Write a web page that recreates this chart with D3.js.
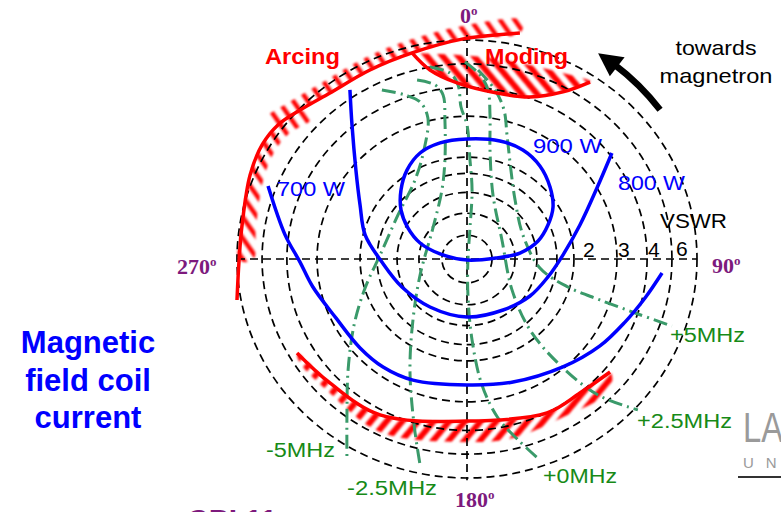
<!DOCTYPE html>
<html>
<head>
<meta charset="utf-8">
<script src="https://cdn.jsdelivr.net/npm/d3@7"></script>
<style>
  html, body { margin: 0; padding: 0; background: #fff; }
  svg { display: block; }
</style>
</head>
<body>
<svg id="chart" width="781" height="512"></svg>
<script>
// ---- Rieke diagram data (load plane, u = real, v = imaginary, outer ring = 1) ----

// constant-VSWR rings
const ringRadii = [0.109, 0.209, 0.304, 0.391, 0.465, 0.652, 0.783, 0.891, 1.0];
const vswrValues = ["2", "3", "4", "6"];
const vswrRings = [0.652, 0.783, 0.891, 1.0];

// load phase marks
const phaseLabels = ["0", "90", "180", "270"];

// output power contours
const power900 = [[0.000,0.548],[0.143,0.539],[0.243,0.498],[0.317,0.425],[0.361,0.329],[0.374,0.237],
  [0.352,0.155],[0.309,0.082],[0.230,0.027],[0.130,0.005],[0.000,-0.005],[-0.117,0.023],[-0.204,0.073],
  [-0.257,0.142],[-0.287,0.224],[-0.287,0.315],[-0.261,0.406],[-0.204,0.484],[-0.117,0.530]];
const power800 = [[-0.509,0.772],[-0.500,0.612],[-0.483,0.406],[-0.465,0.247],[-0.443,0.110],[-0.370,-0.014],
  [-0.283,-0.128],[-0.161,-0.219],[0.000,-0.265],[0.157,-0.233],[0.274,-0.169],[0.352,-0.082],[0.417,0.018],
  [0.491,0.155],[0.565,0.324],[0.630,0.484]];
const power700 = [[-0.865,0.333],[-0.791,0.110],[-0.726,-0.014],[-0.670,-0.128],[-0.570,-0.269],[-0.465,-0.406],
  [-0.365,-0.493],[-0.235,-0.553],[0.000,-0.575],[0.200,-0.562],[0.417,-0.493],[0.578,-0.397],[0.687,-0.288],
  [0.774,-0.178],[0.848,-0.064]];
const powerLabels = ["900 W", "800 W", "700 W"];

// frequency pushing contours
const freqMinus5 = [[-0.370,0.772],[-0.270,0.749],[-0.204,0.717],[-0.170,0.644],[-0.187,0.498],[-0.226,0.361],
  [-0.300,0.201],[-0.378,0.018],[-0.443,-0.132],[-0.491,-0.301],[-0.517,-0.507],[-0.522,-0.712],[-0.522,-0.918]];
const freqMinus25 = [[-0.217,0.817],[-0.139,0.795],[-0.104,0.749],[-0.096,0.635],[-0.096,0.452],[-0.109,0.315],
  [-0.148,0.142],[-0.204,-0.073],[-0.235,-0.279],[-0.248,-0.507],[-0.230,-0.758],[-0.204,-0.941]];
const freqZero = [[-0.161,0.877],[-0.074,0.849],[-0.039,0.795],[-0.026,0.694],[0.000,0.612],[0.013,0.452],
  [0.022,0.315],[0.013,0.142],[0.004,-0.005],[0.004,-0.164],[0.022,-0.370],[0.065,-0.575],[0.135,-0.726],
  [0.222,-0.826],[0.317,-0.918]];
const freqPlus25 = [[-0.009,0.900],[0.057,0.840],[0.091,0.772],[0.100,0.658],[0.100,0.498],[0.113,0.292],
  [0.152,0.087],[0.196,-0.142],[0.274,-0.324],[0.404,-0.484],[0.570,-0.621],[0.743,-0.689]];
const freqPlus5 = [[0.048,0.863],[0.122,0.772],[0.161,0.680],[0.174,0.566],[0.191,0.406],[0.209,0.269],
  [0.243,0.110],[0.317,-0.041],[0.439,-0.128],[0.578,-0.187],[0.743,-0.251],[0.891,-0.306]];
const freqLabels = ["-5MHz", "-2.5MHz", "+0MHz", "+2.5MHz", "+5MHz"];

// unstable operating regions
const arcingEdge = [[-1.000,-0.187],[-0.991,-0.005],[-0.978,0.155],[-0.943,0.384],[-0.891,0.521],[-0.822,0.612],
  [-0.726,0.680],[-0.596,0.758],[-0.422,0.863],[-0.239,0.941],[-0.017,1.005],[0.230,1.032]];
const modingEdge = [[-0.239,0.941],[-0.161,0.863],[-0.043,0.804],[0.130,0.758],[0.274,0.740],[0.417,0.763],[0.535,0.808]];
const modingTop = [[-0.239,0.941],[-0.117,0.936],[0.070,0.922],[0.274,0.886],[0.417,0.849],[0.535,0.813]];
const lowEdge = [[-0.739,-0.429],[-0.596,-0.566],[-0.378,-0.712],[0.000,-0.740],[0.348,-0.703],[0.491,-0.612],[0.622,-0.516]];
const lowOuter = [[-0.726,-0.475],[-0.596,-0.612],[-0.378,-0.790],[0.000,-0.836],[0.200,-0.817],[0.391,-0.735],[0.622,-0.598]];
const regionLabels = ["Arcing", "Moding"];

// ---- layout ----
const cx = 467, cy = 259, R = 230, Ry = 219;
const x = d3.scaleLinear().domain([-1, 1]).range([cx - R, cx + R]);
const y = d3.scaleLinear().domain([-1, 1]).range([cy + Ry, cy - Ry]);

const svg = d3.select("#chart");
const defs = svg.append("defs");

const blur = defs.append("filter").attr("id", "soft")
  .attr("x", "-10%").attr("y", "-10%").attr("width", "120%").attr("height", "120%");
blur.append("feGaussianBlur").attr("stdDeviation", 0.9);

function hatch(id, angle, w) {
  const p = defs.append("pattern").attr("id", id)
    .attr("patternUnits", "userSpaceOnUse")
    .attr("width", 12).attr("height", 12)
    .attr("patternTransform", `rotate(${angle})`);
  p.append("rect").attr("width", w).attr("height", 12).attr("fill", "#ff0000");
}
hatch("hatchTop", -40, 6);
hatch("hatchArc", -35, 4.5);
hatch("hatchLow", 40, 6);

const line = d3.line().x(d => x(d[0])).y(d => y(d[1])).curve(d3.curveCatmullRom.alpha(0.5));
const loop = d3.line().x(d => x(d[0])).y(d => y(d[1])).curve(d3.curveCatmullRomClosed.alpha(0.5));

// radial offset of an edge, in pixels (positive = away from the centre)
const offsetEdge = (edge, px) => edge.map(d => {
  const ex = x(d[0]), ey = y(d[1]);
  const dx = ex - cx, dy = ey - cy, n = Math.hypot(dx, dy);
  return [x.invert(ex + dx / n * px), y.invert(ey + dy / n * px)];
});
const band = (a, b) => {
  const pts = a.concat(b.slice().reverse());
  return d3.line().x(d => x(d[0])).y(d => y(d[1])).curve(d3.curveCatmullRomClosed.alpha(0.5))(pts);
};

const arcTop = arcingEdge.slice(5), arcSide = arcingEdge.slice(1, 7);
const hatchLayer = svg.append("g").attr("filter", "url(#soft)");
hatchLayer.append("path").attr("d", band(arcTop, offsetEdge(arcTop, 13))).attr("fill", "url(#hatchArc)");
hatchLayer.append("path").attr("d", band(arcSide, offsetEdge(arcSide, -14))).attr("fill", "url(#hatchArc)");
hatchLayer.append("path").attr("d", band(modingTop, modingEdge)).attr("fill", "url(#hatchTop)");
hatchLayer.append("path").attr("d", band(lowEdge, lowOuter)).attr("fill", "url(#hatchLow)");

// VSWR rings and phase axes
const grid = svg.append("g").attr("fill", "none").attr("stroke", "#000")
  .attr("stroke-width", 1.7).attr("stroke-dasharray", "8,5");
grid.selectAll("ellipse").data(ringRadii).join("ellipse")
  .attr("cx", x(0)).attr("cy", y(0))
  .attr("rx", d => x(d) - x(0)).attr("ry", d => y(0) - y(d));
grid.append("line").attr("x1", x(-1)).attr("x2", x(1)).attr("y1", y(0)).attr("y2", y(0));
grid.append("line").attr("x1", x(0)).attr("x2", x(0)).attr("y1", y(1.023)).attr("y2", y(-1.01));

// frequency contours
const freqCurves = [freqMinus5, freqMinus25, freqZero, freqPlus25, freqPlus5];
svg.append("g").selectAll("path").data(freqCurves).join("path")
  .attr("d", line).attr("fill", "none").attr("stroke", "#3a9a6a")
  .attr("stroke-width", 3).attr("stroke-dasharray", "14,5,2,5");

// power contours
const blue = svg.append("g").attr("fill", "none").attr("stroke", "#0000ff").attr("stroke-width", 3.5);
blue.append("path").attr("d", loop(power900));
blue.append("path").attr("d", line(power800));
blue.append("path").attr("d", line(power700));

// region boundaries
const red = svg.append("g").attr("fill", "none").attr("stroke", "#ff0000").attr("stroke-width", 3.5);
[arcingEdge, modingEdge, lowEdge].forEach(c => red.append("path").attr("d", line(c)));

// arrow: direction of increasing line length towards the magnetron
const arrowR = 244;
const polar = (b, r) => [cx + r * Math.sin(b * Math.PI / 180), cy - r * Math.cos(b * Math.PI / 180)];
const shaft = d3.path();
shaft.arc(cx, cy, arrowR, (52.3 - 90) * Math.PI / 180, (37.0 - 90) * Math.PI / 180, true);
svg.append("path").attr("d", shaft.toString()).attr("fill", "none").attr("stroke", "#000").attr("stroke-width", 6.5);
const tip = polar(32.5, arrowR), base1 = polar(38, arrowR + 12), base2 = polar(38, arrowR - 12);
svg.append("path").attr("d", `M${tip}L${base1}L${base2}Z`).attr("fill", "#000");

// ---- text ----
const sans = "'Liberation Sans', Arial, Helvetica, sans-serif";
const serif = "'Liberation Serif', 'Times New Roman', serif";

function label(txt, px, py, opt) {
  const t = svg.append("text").attr("x", px).attr("y", py)
    .attr("font-family", opt.family || sans).attr("font-size", opt.size)
    .attr("font-weight", opt.weight || "normal").attr("fill", opt.color)
    .attr("text-anchor", opt.anchor || "start").text(txt);
  if (opt.len) t.attr("textLength", opt.len).attr("lengthAdjust", "spacingAndGlyphs");
  return t;
}

// phase marks with superscript "o"
const purple = "#7d1a7d";
const phasePos = [[460, 23], [712, 273], [455, 507], [177, 274]];
phaseLabels.forEach((p, i) => {
  const t = svg.append("text").attr("x", phasePos[i][0]).attr("y", phasePos[i][1])
    .attr("font-family", serif).attr("font-size", 22).attr("font-weight", "bold").attr("fill", purple);
  t.append("tspan").text(p);
  t.append("tspan").attr("font-size", 13).attr("dy", -8).text("o");
});

// VSWR scale
label("VSWR", 660, 228, { size: 21, color: "#000", len: 67 });
const vswrPos = [[583, 257], [618, 257], [648, 257], [676, 256]];
vswrValues.forEach((v, i) => label(v, vswrPos[i][0], vswrPos[i][1], { size: 21, color: "#000" }));

// power labels
const powerPos = [[533, 153, 69], [618, 190, 67], [277, 196, 68]];
powerLabels.forEach((p, i) => label(p, powerPos[i][0], powerPos[i][1], { size: 21, color: "#0000ff", len: powerPos[i][2] }));

// frequency labels
const freqPos = [[266, 457, 69], [347, 495, 90], [543, 483, 74], [637, 428, 95], [670, 342, 75]];
freqLabels.forEach((f, i) => label(f, freqPos[i][0], freqPos[i][1], { size: 20, color: "#178a17", len: freqPos[i][2] }));

// region names
label(regionLabels[0], 265, 64, { size: 22, weight: "bold", color: "#ff0000", len: 75 });
label(regionLabels[1], 485, 64, { size: 22, weight: "bold", color: "#ff0000", len: 83 });

// arrow caption
label("towards", 716, 55, { size: 21, color: "#000", anchor: "middle", len: 81 });
label("magnetron", 716, 83, { size: 21, color: "#000", anchor: "middle", len: 113 });

// axis caption
["Magnetic", "field coil", "current"].forEach((s, i) =>
  label(s, 88, 353 + i * 37.5, { size: 31, weight: "bold", color: "#0000ff", anchor: "middle" }));

// slide footer
label("CPI 11", 187, 530, { size: 30, weight: "bold", color: purple });
svg.append("text").attr("x", 743).attr("y", 442)
  .attr("font-family", sans).attr("font-size", 42).attr("fill", "#9a9a9a")
  .attr("transform", "translate(743,0) scale(0.78,1) translate(-743,0)").text("LANCASTER");
svg.append("text").attr("x", 743).attr("y", 468)
  .attr("font-family", sans).attr("font-size", 15).attr("fill", "#9a9a9a")
  .attr("letter-spacing", 12).text("UNIVERSITY");
svg.append("line").attr("x1", 738).attr("x2", 781).attr("y1", 477).attr("y2", 477)
  .attr("stroke", "#333").attr("stroke-width", 2);
</script>
</body>
</html>
